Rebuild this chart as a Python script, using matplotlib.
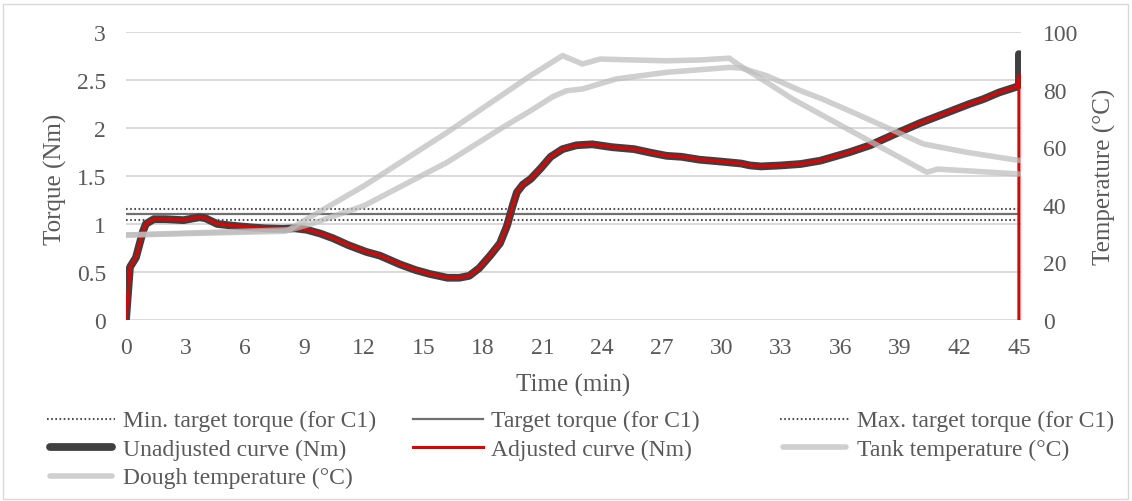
import matplotlib
matplotlib.use('Agg')
import matplotlib.pyplot as plt
from matplotlib.patches import Rectangle

plt.rcParams['font.family'] = ['Liberation Serif', 'DejaVu Serif']

# ---------------- data ----------------
time_adj = [0, 0.2, 0.5, 0.85, 1.0, 1.4, 2.0, 2.9, 3.7, 4.0, 4.6, 5.5, 6.3, 7.0, 7.9, 8.5,
            9.1, 9.8, 10.45, 11.2, 12.1, 12.8, 13.8, 14.6, 15.3, 16.2, 16.8, 17.3, 17.8,
            18.35, 18.85, 19.2, 19.5, 19.7, 20.0, 20.4, 20.9, 21.4, 22.0, 22.7, 23.5, 24.5,
            25.6, 26.5, 27.25, 28.0, 28.9, 30.0, 31.0, 31.45, 32.0, 33.0, 34.0, 35.0, 36.5,
            37.5, 39.0, 40.0, 41.5, 42.5, 43.2, 44.0, 44.9, 45.0, 45.0]
torque_adj = [0, 0.55, 0.65, 0.92, 1.0, 1.05, 1.05, 1.04, 1.07, 1.06, 1.0, 0.98, 0.965, 0.955,
              0.95, 0.955, 0.94, 0.9, 0.85, 0.78, 0.71, 0.67, 0.58, 0.52, 0.48, 0.44, 0.44,
              0.46, 0.54, 0.67, 0.8, 0.98, 1.2, 1.33, 1.41, 1.47, 1.58, 1.70, 1.78, 1.82,
              1.83, 1.80, 1.78, 1.74, 1.71, 1.70, 1.67, 1.65, 1.63, 1.61, 1.60, 1.61, 1.625,
              1.66, 1.75, 1.82, 1.96, 2.05, 2.17, 2.25, 2.30, 2.37, 2.43, 2.55, 0.0]

time_unadj = time_adj[:-2] + [45.0, 45.0]
torque_unadj = torque_adj[:-2] + [2.45, 2.77]

time_tank = [0, 8.2, 9.1, 12.0, 16.2, 20.4, 22.0, 23.0, 23.9, 25.5, 27.25, 29.0, 30.4, 30.9,
             32.3, 33.6, 36.5, 40.36, 40.9, 42.4, 45.0]
temp_tank = [29.5, 31.3, 35.0, 46.6, 65.2, 84.9, 91.8, 88.9, 90.6, 90.3, 90.0, 90.3, 90.9, 88.5,
             82.5, 76.7, 65.8, 51.3, 52.4, 51.8, 50.7]

time_dough = [0, 8.0, 9.4, 12.0, 16.2, 18.85, 20.4, 21.5, 22.2, 23.0, 24.7, 27.25, 30.4, 31.0,
              32.3, 34.0, 35.1, 36.5, 40.2, 42.4, 45.0]
temp_dough = [29.5, 30.8, 33.5, 39.7, 54.8, 66.3, 72.7, 77.5, 79.6, 80.2, 83.7, 86.0, 87.7, 87.5,
              84.8, 79.6, 76.7, 72.5, 61.1, 58.2, 55.4]

target_time = [0, 45]
min_target = [1.045, 1.045]
target_torque = [1.10, 1.10]
max_target = [1.155, 1.155]

x_ticks = list(range(0, 46, 3))
torque_ticks = [0, 0.5, 1, 1.5, 2, 2.5, 3]
torque_tick_labels = ['0', '0.5', '1', '1.5', '2', '2.5', '3']
temp_ticks = [0, 20, 40, 60, 80, 100]

legend_labels = ['Min. target torque (for C1)', 'Target torque (for C1)',
                 'Max. target torque (for C1)', 'Unadjusted curve (Nm)',
                 'Adjusted curve (Nm)', 'Tank temperature (°C)', 'Dough temperature (°C)']

# ---------------- styles ----------------
TXT = '#595959'
GRID = '#d9d9d9'
DARK = '#404040'
RED = '#e00000'
GRAY = '#bdbdbd'
GALPHA = 0.72
W, H = 1132, 502

fig = plt.figure(figsize=(W / 100, H / 100), dpi=100)

def fx(px):
    return px / W

def fy(py):
    return 1 - py / H

left, right, top, bottom = 126, 1020.7, 33, 321
ax = fig.add_axes([fx(left), fy(bottom), fx(right - left), (bottom - top) / H])
ax2 = ax.twinx()

styles = {
    'min': dict(color='#505050', lw=1.5, linestyle=(0, (0.8, 1.2))),
    'target': dict(color='#707070', lw=1.6),
    'max': dict(color='#505050', lw=1.5, linestyle=(0, (0.8, 1.2))),
    'unadj': dict(color=DARK, lw=5.6, solid_capstyle='round', solid_joinstyle='round'),
    'adj': dict(color=RED, lw=2.2, solid_joinstyle='round'),
    'tank': dict(color=GRAY, lw=4, alpha=GALPHA, solid_capstyle='round', solid_joinstyle='round'),
    'dough': dict(color=GRAY, lw=4, alpha=GALPHA, solid_capstyle='round', solid_joinstyle='round'),
}

ax.plot(target_time, min_target, **styles['min'])
ax.plot(target_time, target_torque, **styles['target'])
ax.plot(target_time, max_target, **styles['max'])
ax.plot(time_unadj, torque_unadj, **styles['unadj'])
ax.plot(time_adj, torque_adj, **styles['adj'])
ax2.plot(time_tank, temp_tank, **styles['tank'])
ax2.plot(time_dough, temp_dough, **styles['dough'])

ax.set_xlim(0, 45.09)
ax.set_ylim(0, 3)
ax2.set_ylim(0, 100)
ax.set_xticks(x_ticks)
ax.set_yticks(torque_ticks)
ax.set_yticklabels(torque_tick_labels)
ax2.set_yticks(temp_ticks)

ax.set_axisbelow(True)
ax.grid(axis='y', color=GRID, lw=1.4)
ax.grid(axis='x', visible=False)
for a in (ax, ax2):
    for s in a.spines.values():
        s.set_visible(False)
ax.tick_params(axis='x', length=0, pad=12.5, labelsize=17, labelcolor=TXT)
ax.tick_params(axis='y', length=0, pad=14.4, labelsize=17, labelcolor=TXT)
ax2.tick_params(axis='y', length=0, pad=15.8, labelsize=17, labelcolor=TXT)

ax.set_xlabel('Time (min)', fontsize=18, color=TXT)
ax.xaxis.set_label_coords(0.5, (bottom - 391.7) / (bottom - top))
ax.xaxis.label.set_va('baseline')

fig.text(fx(55), fy(179), 'Torque (Nm)', rotation=90, ha='center', va='center',
         fontsize=18, color=TXT)
fig.text(fx(1104), fy(177), 'Temperature (°C)', rotation=90, ha='center', va='center',
         fontsize=18, color=TXT)

# ---------------- legend (overlay in pixel coordinates) ----------------
lax = fig.add_axes([0, 0, 1, 1], zorder=10)
lax.set_xlim(0, W)
lax.set_ylim(H, 0)
lax.axis('off')
lax.patch.set_alpha(0)

lax.add_patch(Rectangle((3, 5), 1125, 495, fill=False, edgecolor=GRID, lw=1))

rows = [420, 448.3, 476.7]
cols = [(46.7, 115, 123.3), (413.3, 482.7, 490.7), (780, 849, 856.7)]
keys = ['min', 'target', 'max', 'unadj', 'adj', 'tank', 'dough']
for i, (key, lab) in enumerate(zip(keys, legend_labels)):
    r, c = divmod(i, 3)
    x0, x1, xt = cols[c]
    y = rows[r]
    st = dict(styles[key])
    if st.get('solid_capstyle') == 'round':
        x0 += 3
        x1 -= 3
    lax.plot([x0, x1], [y, y], **st)
    lax.text(xt, y + 7.3, lab, ha='left', va='baseline', fontsize=17, color=TXT)

fig.savefig('out.png', dpi=100)
